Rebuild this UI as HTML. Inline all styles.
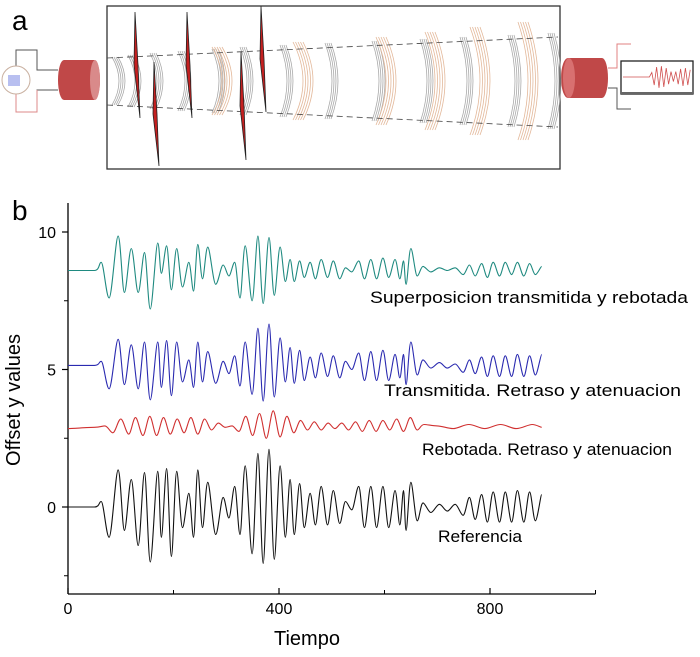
<!DOCTYPE html>
<html><head><meta charset="utf-8"><style>
html,body{margin:0;padding:0;background:#fff;}
svg{display:block;font-family:"Liberation Sans",Arial,sans-serif;}
</style></head><body>
<svg id="fig" width="700" height="657" viewBox="0 0 700 657">
<g id="panelA">
  <text x="12" y="30" font-size="28" fill="#000">a</text>
  <rect x="107" y="6" width="453" height="163" fill="none" stroke="#333" stroke-width="1.3"/>
  <g>
    <path d="M16,66 V50 H37 V70 H58 M58,90 H37 V112 H16 V94" fill="none" stroke="#555" stroke-width="1"/>
    <path d="M37,90 V112 H16 V94" fill="none" stroke="#d88" stroke-width="1"/>
    <circle cx="16" cy="80" r="14" fill="#fff" stroke="#c9b0a0" stroke-width="1"/>
    <rect x="8" y="75" width="12" height="11" fill="#b8bff0"/>
    <path d="M64,60 H94 A6,20 0 0 1 94,100 H64 A6,20 0 0 1 64,60 Z" fill="#c04848"/>
    <ellipse cx="95" cy="80" rx="5" ry="20" fill="#d98a8a"/>
  </g>
  <g>
    <path d="M568,58 H602 A6,20 0 0 1 602,98 H568 A7,20 0 0 1 568,58 Z" fill="#c04848"/>
    <ellipse cx="569" cy="78" rx="6" ry="20" fill="#d87070"/>
    <path d="M608,68 H617 V44 H631" fill="none" stroke="#e08080" stroke-width="1"/>
    <path d="M608,88 H617 V109 H631" fill="none" stroke="#555" stroke-width="1"/>
    <rect x="621" y="61" width="72" height="33" fill="#fff" stroke="#222" stroke-width="1.3"/>
    <line x1="621" y1="93" x2="693" y2="93" stroke="#666" stroke-width="2"/>
    <polyline id="insetWave" fill="none" stroke="#d05050" stroke-width="0.8" points=""/>
  </g>
  <g id="lenses"></g>
  <line x1="107" y1="58" x2="558" y2="37" stroke="#444" stroke-width="0.8" stroke-dasharray="6,4"/>
  <line x1="107" y1="105" x2="558" y2="127" stroke="#444" stroke-width="0.8" stroke-dasharray="6,4"/>
  <g id="blades"></g>
</g>
<g id="panelB">
  <text x="12" y="220" font-size="28" fill="#000">b</text>
  <g id="axes"></g>
  <g id="series"></g>
  <text x="370" y="303" font-size="17" textLength="318" lengthAdjust="spacingAndGlyphs" fill="#000">Superposicion transmitida y rebotada</text>
  <text x="384" y="396" font-size="17" textLength="297" lengthAdjust="spacingAndGlyphs" fill="#000">Transmitida. Retraso y atenuacion</text>
  <text x="422" y="455" font-size="17" textLength="250" lengthAdjust="spacingAndGlyphs" fill="#000">Rebotada. Retraso y atenuacion</text>
  <text x="438" y="542" font-size="17" textLength="84" lengthAdjust="spacingAndGlyphs" fill="#000">Referencia</text>
  <text x="307" y="645" font-size="20" text-anchor="middle" fill="#000">Tiempo</text>
  <text transform="translate(20,400) rotate(-90)" font-size="20" text-anchor="middle" fill="#000">Offset y values</text>
</g>
</svg>
<script>
// ---- chart data ----
const xTicks = [0, 400, 800];
const xMinorTicks = [200, 600, 1000];
const yTicks = [0, 5, 10];
const yMinorTicks = [-2.5, 2.5, 7.5];
const seriesNames = ["referencia", "rebotada", "transmitida", "superposicion"];
const times = [0,50,63,78,95,107,120,133,145,156,170,177,187,196,206,217,229,238,246,255,265,280,294,305,316,326,336,349,360,370,381,391,402,412,421,429,439,448,459,469,480,492,503,515,526,538,551,562,574,585,597,608,620,629,636,641,650,662,673,688,704,719,734,749,761,772,784,795,806,818,829,841,852,864,875,886,898];
const refValues = [0,0,0.2,-1.1,1.35,-0.85,1.0,-1.4,1.25,-2.0,1.3,-1.1,1.4,-1.8,1.3,-0.75,0.5,-1.1,1.35,-0.75,0.9,-1.0,0.35,-0.4,0.75,-1.0,1.5,-1.7,1.95,-2.05,2.1,-1.9,1.5,-1.1,1.0,-1.0,0.85,-0.75,0.5,-0.65,0.75,-0.65,0.6,-0.6,0.2,-0.1,0.75,-0.75,0.75,-0.75,0.75,-0.75,0.6,-0.65,0.6,-0.85,0.9,-0.5,0.15,-0.2,0.1,-0.15,0.1,-0.3,0.35,-0.45,0.45,-0.55,0.55,-0.55,0.55,-0.55,0.6,-0.55,0.55,-0.5,0.45];
const transValues = [5.15,5.15,5.3,4.3,6.1,4.45,5.9,4.3,6.0,3.9,6.0,4.35,6.05,4.05,6.0,4.55,5.35,4.35,6.0,4.55,5.65,4.5,5.3,4.85,5.5,4.4,6.0,4.1,6.5,3.85,6.65,4.0,6.15,4.55,5.8,4.5,5.7,4.6,5.45,4.7,5.6,4.75,5.5,4.7,5.3,5.0,5.6,4.6,5.65,4.6,5.7,4.6,5.55,4.7,5.55,4.45,6.0,4.8,5.35,5.05,5.25,5.05,5.2,4.9,5.35,4.85,5.45,4.75,5.5,4.75,5.5,4.75,5.55,4.75,5.5,4.8,5.55];
const superValues = [8.6,8.6,8.9,7.6,9.85,7.8,9.4,7.8,9.25,7.2,9.6,8.5,9.5,7.9,9.4,8.0,8.9,7.85,9.55,8.3,9.45,8.1,8.8,8.4,8.9,7.6,9.5,7.5,9.85,7.4,9.8,7.7,9.45,8.2,9.0,8.2,8.95,8.35,8.9,8.3,9.0,8.35,8.95,8.3,8.7,8.55,8.95,8.3,9.0,8.3,9.05,8.35,9.0,8.3,8.95,8.1,9.4,8.4,8.75,8.55,8.7,8.6,8.7,8.45,8.8,8.4,8.85,8.35,8.9,8.4,8.9,8.45,8.9,8.4,8.85,8.45,8.75];
const redTimes = [0,50,70,85,100,115,128,142,155,168,181,194,207,220,233,246,259,272,285,298,311,324,337,350,363,376,389,402,415,428,441,454,467,480,493,506,519,532,545,558,571,584,597,610,623,636,649,662,675,700,730,760,790,820,850,880,898];
const redValues = [2.85,2.9,2.95,2.7,3.2,2.65,3.25,2.6,3.3,2.6,3.25,2.65,3.2,2.7,3.25,2.65,3.2,2.8,3.05,2.9,2.95,2.75,3.3,2.6,3.4,2.5,3.5,2.55,3.3,2.7,3.15,2.8,3.1,2.8,3.05,2.85,3.05,2.8,3.1,2.75,3.15,2.75,3.15,2.8,3.2,2.75,3.25,2.8,3.0,2.95,2.85,3.0,2.85,3.0,2.85,3.0,2.9];

const NS = "http://www.w3.org/2000/svg";
const X0 = 68, XSCALE = 0.5275, Y0 = 507, YSCALE = 27.5;
function xPos(t){ return X0 + t * XSCALE; }
function yPos(v){ return Y0 - v * YSCALE; }
function mk(tag, attrs, parent){ const e = document.createElementNS(NS, tag); for (const k in attrs) e.setAttribute(k, attrs[k]); parent.appendChild(e); return e; }

const axes = document.getElementById('axes');
const yAxis = mk('line', {x1:X0, y1:203, x2:X0, y2:594, stroke:'#000', 'stroke-width':1.3}, axes);


const xAxis = mk('line', {x1:X0, y1:594, x2:xPos(1000), y2:594, stroke:'#000', 'stroke-width':1.3}, axes);


xTicks.forEach(t => {
  const tk = mk('line', {x1:xPos(t), y1:594, x2:xPos(t), y2:588, stroke:'#000', 'stroke-width':1.2}, axes);
  
  
  const lb = mk('text', {x:xPos(t), y:614, 'font-size':16, 'text-anchor':'middle'}, axes);
  lb.textContent = t;
  
  
});
xMinorTicks.forEach(t => {
  const tk = mk('line', {x1:xPos(t), y1:594, x2:xPos(t), y2:590, stroke:'#000', 'stroke-width':1}, axes);
  
  
});
yTicks.forEach(v => {
  const tk = mk('line', {x1:X0-6, y1:yPos(v), x2:X0, y2:yPos(v), stroke:'#000', 'stroke-width':1.2}, axes);
  
  
  const lb = mk('text', {x:X0-12, y:yPos(v)+6, 'font-size':16, 'text-anchor':'end'}, axes);
  lb.textContent = v;
  
  
});
yMinorTicks.forEach(v => {
  const tk = mk('line', {x1:X0-4, y1:yPos(v), x2:X0, y2:yPos(v), stroke:'#000', 'stroke-width':1}, axes);
  
  
});

function smoothPath(ts, vs){
  const p = ts.map((t,i) => [xPos(t), yPos(vs[i])]);
  let d = 'M' + p[0][0].toFixed(1) + ',' + p[0][1].toFixed(1);
  for (let i = 0; i < p.length - 1; i++){
    const a = p[Math.max(0,i-1)], b = p[i], c = p[i+1], e = p[Math.min(p.length-1,i+2)];
    const c1x = b[0] + (c[0]-a[0])/6, c2x = c[0] - (e[0]-b[0])/6;
    d += ' C' + c1x.toFixed(1) + ',' + b[1].toFixed(1) + ' ' + c2x.toFixed(1) + ',' + c[1].toFixed(1) + ' ' + c[0].toFixed(1) + ',' + c[1].toFixed(1);
  }
  return d;
}
const sg = document.getElementById('series');
const defs = [
  [times, refValues, '#111', 'series-referencia'],
  [redTimes, redValues, '#d03030', 'series-rebotada'],
  [times, transValues, '#2a2ab0', 'series-transmitida'],
  [times, superValues, '#1f8a80', 'series-superposicion']
];
defs.forEach(s => {
  const path = mk('path', {d:smoothPath(s[0], s[1]), fill:'none', stroke:s[2], 'stroke-width':1.1}, sg);
  
  
});

const lensG = document.getElementById('lenses');
const greyLensX = [112,128,150,178,212,240,280,325,372,420,460,508,548];
greyLensX.forEach((x,i) => {
  const h = 24 + i * 2;
  for (let k = 0; k < 4; k++){
    const l = mk('path', {d:'M'+(x+k*2)+','+(81-h)+' Q'+(x+14+k*2)+',81 '+(x+k*2)+','+(81+h), fill:'none', stroke:'#aaa', 'stroke-width':0.8}, lensG);
    
    
  }
});
const beigeLensX = [212,293,376,425,470,518];
beigeLensX.forEach((x,i) => {
  const h = 34 + i * 5;
  for (let k = 0; k < 5; k++){
    const l = mk('path', {d:'M'+(x+k*2.5)+','+(81-h)+' Q'+(x+20+k*2.5)+',81 '+(x+k*2.5)+','+(81+h), fill:'none', stroke:'#e3b89a', 'stroke-width':0.8}, lensG);
    
    
  }
});
const bladeG = document.getElementById('blades');
[[135,12,140,118],[154,62,159,166],[187,12,192,118],[241,52,246,160],[261,6,266,112]].forEach(b => {
  const p = mk('polygon', {points:b[0]+','+b[1]+' '+(b[0]+3)+','+((b[1]+b[3])/2)+' '+b[2]+','+b[3]+' '+(b[0]-1)+','+((b[1]+b[3])/2), fill:'#c42020', stroke:'#222', 'stroke-width':0.8}, bladeG);
  
  
});
const insetAmps = [0,0,0,0,0,0,0,0,0,0,0,0,5,9,11,12,12,11,10,8,6,5,6,8,9,10,10,9,8];
let pts = [];
insetAmps.forEach((a,i) => { pts.push((623 + i*2.4).toFixed(1) + ',' + (77 + (i%2 ? a : -a)*0.9).toFixed(1)); });
document.getElementById('insetWave').setAttribute('points', pts.join(' '));
</script>
</body></html>
